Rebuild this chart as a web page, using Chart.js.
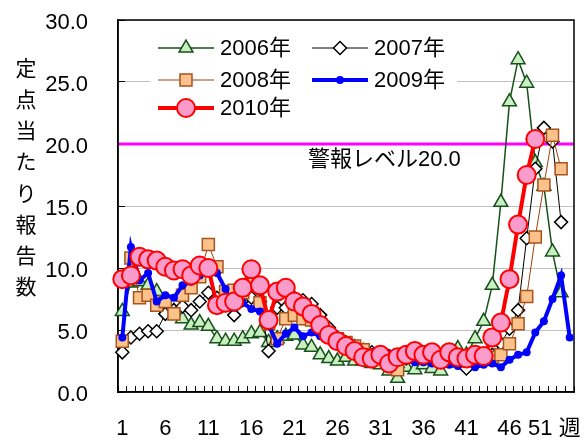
<!DOCTYPE html>
<html>
<head>
<meta charset="utf-8">
<script src="https://cdn.jsdelivr.net/npm/chart.js@4.4.0/dist/chart.umd.min.js"></script>
<style>
  body { margin: 0; background: #fff; }
</style>
</head>
<body>
<canvas id="fluChart" width="585" height="442"></canvas>
<script>
const weeks = [1, 2, 3, 4, 5, 6, 7, 8, 9, 10, 11, 12, 13, 14, 15, 16, 17, 18, 19, 20,
  21, 22, 23, 24, 25, 26, 27, 28, 29, 30, 31, 32, 33, 34, 35, 36, 37, 38, 39, 40,
  41, 42, 43, 44, 45, 46, 47, 48, 49, 50, 51, 52, 53];
const shownWeeks = [1, 6, 11, 16, 21, 26, 31, 36, 41, 46, 51];
const weekUnit = "週";
const yTitle = "定点当たり報告数";
const alertLevel = 20.0;
const alertText = "警報レベル20.0";

const y2006 = [6.5, 8.8, 8.9, 8.6, 8.1, 7.0, 6.5, 5.9, 5.4, 5.6, 5.3, 4.3, 4.1, 4.1, 4.3, 4.7, 4.8, 4.0, 4.3, 4.5,
  4.6, 3.8, 3.6, 3.0, 2.7, 2.5, 2.8, 2.5, 2.5, 2.3, 2.2, 1.7, 1.1, 2.0, 1.8, 2.2, 1.9, 1.7, 2.4, 3.5,
  3.0, 4.3, 5.7, 8.6, 15.3, 23.4, 26.8, 24.9, 18.5, 16.6, 11.3, 8.0];
const y2007 = [3.2, 4.4, 4.7, 4.9, 4.9, 6.3, 6.6, 6.9, 6.6, 7.3, 8.0, 7.6, 7.0, 6.2, 7.4, 7.6, 7.3, 3.3, 6.8, 6.8,
  7.6, 7.4, 7.1, 6.2, 5.2, 4.4, 4.0, 3.7, 3.4, 3.2, 3.0, 2.9, 2.0, 2.7, 2.9, 2.8, 2.9, 2.7, 2.6, 2.7,
  1.9, 2.6, 2.8, 3.0, 3.9, 5.1, 6.6, 12.4, 18.0, 21.3, 20.2, 13.7];
const y2008 = [4.1, 10.8, 7.6, 7.8, 7.0, 7.3, 6.3, 7.8, 8.4, 9.3, 11.9, 10.1, 8.1, 8.2, 8.0, 9.0, 7.2, 5.5, 4.3, 5.9,
  6.2, 5.9, 5.8, 5.3, 4.6, 4.3, 4.0, 3.7, 3.4, 3.0, 2.8, 2.5, 1.8, 2.8, 2.9, 2.7, 2.8, 2.6, 2.5, 2.7,
  2.6, 2.7, 2.8, 2.8, 3.0, 3.9, 5.5, 7.7, 12.5, 16.7, 20.7, 18.0];
const y2009 = [4.4, 11.7, 9.0, 9.6, 7.3, 7.8, 7.6, 8.6, 8.9, 9.4, 9.6, 9.6, 8.3, 6.8, 7.2, 6.7, 6.5, 5.4, 3.9, 4.7,
  5.2, 4.5, 4.8, 4.5, 4.2, 3.8, 3.5, 3.3, 3.1, 3.2, 3.0, 3.1, 2.6, 2.8, 2.4, 2.4, 2.3, 2.4, 2.2, 2.1,
  2.3, 2.0, 2.2, 2.3, 2.0, 2.6, 3.0, 3.2, 4.8, 5.7, 7.5, 9.4, 4.4];
const y2010 = [9.1, 9.4, 10.9, 10.7, 10.6, 10.1, 9.8, 9.9, 9.4, 10.2, 10.0, 7.0, 7.2, 7.3, 8.4, 9.9, 8.6, 5.8, 8.1, 8.4,
  7.3, 6.9, 6.3, 5.4, 4.6, 4.1, 3.7, 3.3, 2.8, 2.7, 3.0, 2.3, 2.8, 3.0, 3.3, 3.0, 3.2, 2.6, 3.2, 2.8,
  2.7, 3.0, 2.9, 4.4, 5.6, 9.1, 13.5, 17.5, 20.4];

const FONT = "'Liberation Sans', Arial, 'Noto Sans CJK JP', sans-serif";

// legend slot for each dataset: [column, row]
const legendSlots = [[0, 0], [1, 0], [0, 1], [1, 1], [0, 2]];

function drawMarker(ctx, ds, x, y) {
  ctx.fillStyle = ds.pointBackgroundColor;
  ctx.strokeStyle = ds.pointBorderColor;
  ctx.lineWidth = ds.pointBorderWidth;
  Chart.helpers.drawPoint(ctx, {
    pointStyle: ds.pointStyle,
    radius: ds.pointRadius,
    rotation: 0,
    borderWidth: ds.pointBorderWidth,
  }, x, y);
}

const framePlugin = {
  id: "frame",
  beforeDatasetsDraw(chart) {
    const { ctx, chartArea: a } = chart;
    const y = chart.scales.y;
    const ly = y.getPixelForValue(alertLevel);
    ctx.save();
    // alert level line
    ctx.strokeStyle = "#ff00ff";
    ctx.lineWidth = 3;
    ctx.beginPath();
    ctx.moveTo(a.left, ly);
    ctx.lineTo(a.right, ly);
    ctx.stroke();
    ctx.fillStyle = "#000";
    ctx.font = "22px " + FONT;
    ctx.textBaseline = "middle";
    ctx.textAlign = "left";
    ctx.fillText(alertText, a.left + 190, ly + 16);
    // box round the plot
    ctx.strokeStyle = "#000";
    ctx.lineWidth = 1.5;
    ctx.beginPath();
    ctx.rect(a.left, a.top, a.right - a.left, a.bottom - a.top);
    ctx.stroke();
    // vertical y title
    ctx.font = "21px " + FONT;
    ctx.textAlign = "center";
    [...yTitle].forEach((ch, i) => ctx.fillText(ch, 26, 70 + i * 31.2));
    ctx.restore();
  },
  afterDatasetsDraw(chart) {
    const ctx = chart.ctx;
    ctx.save();
    ctx.fillStyle = "#fff";
    ctx.fillRect(150, 30, 307, 94);
    const rowY = [48, 80, 108];
    const colX = [158, 312];
    chart.data.datasets.forEach((ds, i) => {
      const [c, r] = legendSlots[i];
      const x0 = colX[c];
      const yy = rowY[r];
      ctx.strokeStyle = ds.borderColor;
      ctx.lineWidth = ds.borderWidth;
      ctx.beginPath();
      ctx.moveTo(x0, yy);
      ctx.lineTo(x0 + 56, yy);
      ctx.stroke();
      drawMarker(ctx, ds, x0 + 28, yy);
      ctx.fillStyle = "#000";
      ctx.font = "22px " + FONT;
      ctx.textAlign = "left";
      ctx.textBaseline = "middle";
      ctx.fillText(ds.label, x0 + 62, yy + 1);
    });
    ctx.restore();
  },
};

const ctx = document.getElementById("fluChart").getContext("2d");
const fluChart = new Chart(ctx, {
  type: "line",
  data: {
    labels: weeks,
    datasets: [
      {
        label: "2006年",
        data: y2006,
        borderColor: "#17501a",
        borderWidth: 1.5,
        pointStyle: "triangle",
        pointRadius: 8,
        pointBackgroundColor: "#c8f0c0",
        pointBorderColor: "#17501a",
        pointBorderWidth: 1.5,
        order: 4,
      },
      {
        label: "2007年",
        data: y2007,
        borderColor: "#000000",
        borderWidth: 1,
        pointStyle: "rectRot",
        pointRadius: 6.5,
        pointBackgroundColor: "#ffffff",
        pointBorderColor: "#000000",
        pointBorderWidth: 1.5,
        order: 3,
      },
      {
        label: "2008年",
        data: y2008,
        borderColor: "#a0410d",
        borderWidth: 1,
        pointStyle: "rect",
        pointRadius: 8.5,
        pointBackgroundColor: "#fcc28c",
        pointBorderColor: "#a8521c",
        pointBorderWidth: 1.5,
        order: 2,
      },
      {
        label: "2009年",
        data: y2009,
        borderColor: "#0000ff",
        borderWidth: 4,
        pointStyle: "circle",
        pointRadius: 4,
        pointBackgroundColor: "#0000ff",
        pointBorderColor: "#0000ff",
        pointBorderWidth: 0,
        order: 1,
      },
      {
        label: "2010年",
        data: y2010,
        borderColor: "#ff0000",
        borderWidth: 4,
        pointStyle: "circle",
        pointRadius: 9,
        pointBackgroundColor: "#f99ccb",
        pointBorderColor: "#ff0000",
        pointBorderWidth: 2,
        order: 0,
      },
    ],
  },
  options: {
    responsive: false,
    animation: false,
    devicePixelRatio: 1,
    clip: false,
    layout: { padding: { top: 20, right: 5, left: 0, bottom: 0 } },
    elements: { line: { tension: 0 } },
    scales: {
      x: {
        offset: true,
        afterFit(scale) {
          scale.height = 50;
          scale.paddingLeft = 0;
          scale.paddingRight = 0;
        },
        grid: {
          offset: true,
          drawOnChartArea: false,
          drawTicks: true,
          tickLength: -6,
          color: "#000",
        },
        border: { display: true, color: "#000", width: 1.5 },
        ticks: {
          autoSkip: false,
          maxRotation: 0,
          minRotation: 0,
          padding: 30,
          color: "#000",
          font: { size: 22, family: FONT },
          callback(value, index) {
            const w = weeks[index];
            if (index === weeks.length - 1) return weekUnit;
            if (!shownWeeks.includes(w)) return "";
            // last number is nudged left so it clears the unit label
            return w === 51 ? w + "    " : String(w);
          },
        },
      },
      y: {
        min: 0,
        max: 30,
        afterFit(scale) {
          scale.width = 118;
          scale.paddingTop = 0;
          scale.paddingBottom = 0;
        },
        grid: {
          color: "#c0c0c0",
          tickColor: "#000",
          tickLength: -7,
          lineWidth: 1,
        },
        border: { display: true, color: "#000", width: 1.5 },
        ticks: {
          stepSize: 5,
          padding: 37,
          labelOffset: 3,
          color: "#000",
          font: { size: 22, family: FONT },
          callback: (v) => v.toFixed(1),
        },
      },
    },
    plugins: {
      legend: { display: false },
      tooltip: { enabled: false },
    },
  },
  plugins: [framePlugin],
});
</script>
</body>
</html>
